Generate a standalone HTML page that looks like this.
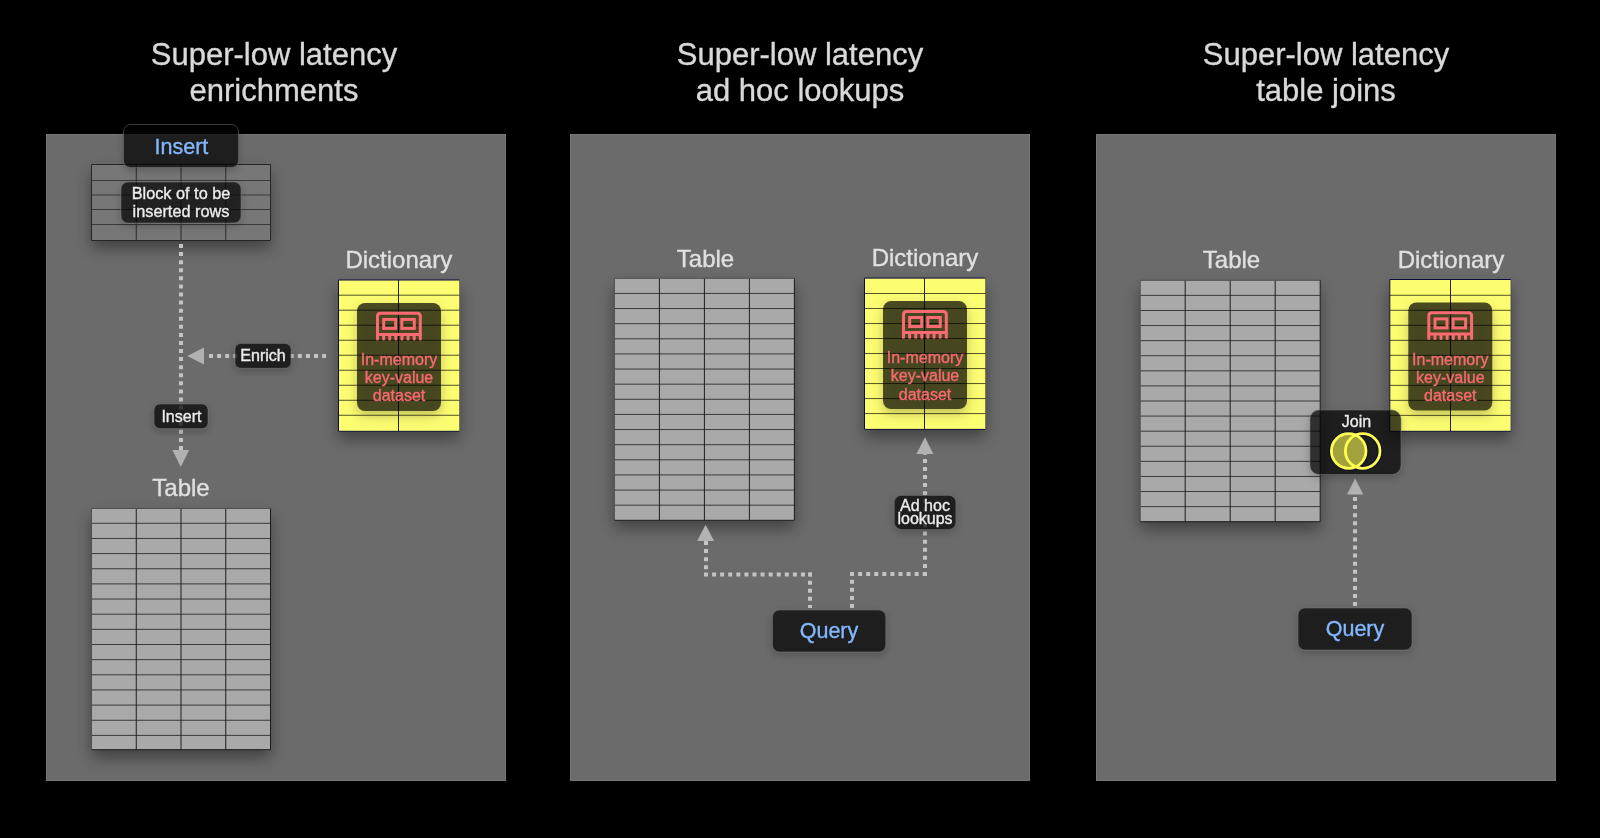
<!DOCTYPE html><html><head><meta charset="utf-8"><style>html,body{margin:0;padding:0;background:#000;overflow:hidden}svg{display:block;will-change:transform}text{font-family:"Liberation Sans",sans-serif}</style></head><body>
<svg width="1600" height="838" viewBox="0 0 1600 838">
<defs>
<filter id="sh" x="-30%" y="-30%" width="160%" height="160%"><feDropShadow dx="0" dy="8" stdDeviation="8" flood-color="#000" flood-opacity="0.4"/></filter>
<filter id="sh2" x="-30%" y="-30%" width="160%" height="160%"><feGaussianBlur in="SourceAlpha" stdDeviation="4" result="b"/><feOffset in="b" dy="3" result="o"/><feComposite in="o" in2="SourceAlpha" operator="out" result="c"/><feFlood flood-color="#000" flood-opacity="0.3"/><feComposite in2="c" operator="in" result="d"/><feMerge><feMergeNode in="d"/><feMergeNode in="SourceGraphic"/></feMerge></filter>
<filter id="sh3" x="-40%" y="-40%" width="180%" height="180%"><feGaussianBlur in="SourceAlpha" stdDeviation="6" result="b"/><feOffset in="b" dy="5" result="o"/><feComposite in="o" in2="SourceAlpha" operator="out" result="c"/><feFlood flood-color="#000" flood-opacity="0.32"/><feComposite in2="c" operator="in" result="d"/><feMerge><feMergeNode in="d"/><feMergeNode in="SourceGraphic"/></feMerge></filter>
</defs>
<g>
<rect width="1600" height="838" fill="#000"/>
<rect x="46.5" y="134.5" width="459" height="646" fill="#6b6b6b" stroke="#777777" stroke-width="1"/>
<rect x="570.5" y="134.5" width="459" height="646" fill="#6b6b6b" stroke="#777777" stroke-width="1"/>
<rect x="1096.5" y="134.5" width="459" height="646" fill="#6b6b6b" stroke="#777777" stroke-width="1"/>
<text x="274" y="65" font-size="31" fill="#d9d9d9" stroke="#d9d9d9" stroke-width="0.35" text-anchor="middle" >Super-low latency</text>
<text x="274" y="101" font-size="31" fill="#d9d9d9" stroke="#d9d9d9" stroke-width="0.35" text-anchor="middle" >enrichments</text>
<text x="800" y="65" font-size="31" fill="#d9d9d9" stroke="#d9d9d9" stroke-width="0.35" text-anchor="middle" >Super-low latency</text>
<text x="800" y="101" font-size="31" fill="#d9d9d9" stroke="#d9d9d9" stroke-width="0.35" text-anchor="middle" >ad hoc lookups</text>
<text x="1326" y="65" font-size="31" fill="#d9d9d9" stroke="#d9d9d9" stroke-width="0.35" text-anchor="middle" >Super-low latency</text>
<text x="1326" y="101" font-size="31" fill="#d9d9d9" stroke="#d9d9d9" stroke-width="0.35" text-anchor="middle" >table joins</text>
<rect x="91.5" y="164.5" width="179" height="76" fill="#777777" filter="url(#sh)"/>
<line x1="91.5" y1="180.50" x2="270.5" y2="180.50" stroke="#2a2a2a" stroke-width="0.8"/>
<line x1="91.5" y1="195.00" x2="270.5" y2="195.00" stroke="#2a2a2a" stroke-width="0.8"/>
<line x1="91.5" y1="209.50" x2="270.5" y2="209.50" stroke="#2a2a2a" stroke-width="0.8"/>
<line x1="91.5" y1="224.50" x2="270.5" y2="224.50" stroke="#2a2a2a" stroke-width="0.8"/>
<line x1="136.25" y1="164.5" x2="136.25" y2="240.5" stroke="#2a2a2a" stroke-width="1.0"/>
<line x1="181.00" y1="164.5" x2="181.00" y2="240.5" stroke="#2a2a2a" stroke-width="1.0"/>
<line x1="225.75" y1="164.5" x2="225.75" y2="240.5" stroke="#2a2a2a" stroke-width="1.0"/>
<path d="M91.5,240.5 V164.5 H270.5" fill="none" stroke="#262626" stroke-width="1.0"/>
<path d="M270.5,164.5 V240.5 H91.5" fill="none" stroke="#262626" stroke-width="1.0"/>
<line x1="181" y1="244" x2="181" y2="450" stroke="#c4c4c4" stroke-width="4" stroke-dasharray="4 4.08" stroke-dashoffset="0"/>
<polygon points="172.4,450 189.1,450 180.8,467" fill="#b2b2b2"/>
<rect x="123.5" y="124.5" width="115.0" height="43.0" rx="7" ry="7" fill="rgba(0,0,0,0.7)" stroke="rgba(110,110,110,0.55)" stroke-width="1" filter="url(#sh2)"/>
<text x="181.4" y="153.8" font-size="21.5" fill="#82b8ff" stroke="#82b8ff" stroke-width="0.35" text-anchor="middle" >Insert</text>
<rect x="121" y="182" width="120" height="41" rx="7" ry="7" fill="rgba(0,0,0,0.7)" stroke="rgba(110,110,110,0.55)" stroke-width="1" filter="url(#sh2)"/>
<text x="181" y="198.7" font-size="16.3" fill="#ececec" stroke="#ececec" stroke-width="0.35" text-anchor="middle" >Block of to be</text>
<text x="181" y="217" font-size="16.3" fill="#ececec" stroke="#ececec" stroke-width="0.35" text-anchor="middle" >inserted rows</text>
<line x1="209" y1="356" x2="326" y2="356" stroke="#c4c4c4" stroke-width="4" stroke-dasharray="4 4.08" stroke-dashoffset="0"/>
<polygon points="187.3,356 204,347.5 204,364.5" fill="#b2b2b2"/>
<rect x="235" y="343.5" width="56" height="24.80000000000001" rx="6" ry="6" fill="rgba(0,0,0,0.7)" stroke="rgba(110,110,110,0.55)" stroke-width="1" filter="url(#sh2)"/>
<text x="263" y="361" font-size="16" fill="#ececec" stroke="#ececec" stroke-width="0.35" text-anchor="middle" >Enrich</text>
<rect x="154" y="404" width="54" height="24.600000000000023" rx="6" ry="6" fill="rgba(0,0,0,0.7)" stroke="rgba(110,110,110,0.55)" stroke-width="1" filter="url(#sh2)"/>
<text x="181.4" y="422.2" font-size="16" fill="#ececec" stroke="#ececec" stroke-width="0.35" text-anchor="middle" >Insert</text>
<text x="398.8" y="267.8" font-size="24" fill="#e0e0e0" stroke="#e0e0e0" stroke-width="0.35" text-anchor="middle" >Dictionary</text>
<rect x="338.5" y="280" width="121" height="151.3" fill="#fdfd72" filter="url(#sh)"/>
<line x1="338.5" y1="295.20" x2="459.5" y2="295.20" stroke="#2a2a14" stroke-width="0.8"/>
<line x1="338.5" y1="310.21" x2="459.5" y2="310.21" stroke="#2a2a14" stroke-width="0.8"/>
<line x1="338.5" y1="325.22" x2="459.5" y2="325.22" stroke="#2a2a14" stroke-width="0.8"/>
<line x1="338.5" y1="340.23" x2="459.5" y2="340.23" stroke="#2a2a14" stroke-width="0.8"/>
<line x1="338.5" y1="355.24" x2="459.5" y2="355.24" stroke="#2a2a14" stroke-width="0.8"/>
<line x1="338.5" y1="370.25" x2="459.5" y2="370.25" stroke="#2a2a14" stroke-width="0.8"/>
<line x1="338.5" y1="385.26" x2="459.5" y2="385.26" stroke="#2a2a14" stroke-width="0.8"/>
<line x1="338.5" y1="400.27" x2="459.5" y2="400.27" stroke="#2a2a14" stroke-width="0.8"/>
<line x1="338.5" y1="415.28" x2="459.5" y2="415.28" stroke="#2a2a14" stroke-width="0.8"/>
<line x1="398.5" y1="280" x2="398.5" y2="431.3" stroke="#222" stroke-width="1"/>
<path d="M459.5,280 H338.5 V431.3 H459.5" fill="none" stroke="#0a0a40" stroke-width="1"/>
<line x1="459.5" y1="280" x2="459.5" y2="431.3" stroke="rgba(10,10,60,0.35)" stroke-width="1"/>
<rect x="357.0" y="303" width="84" height="108" rx="8" ry="8" fill="rgba(0,0,0,0.7)" filter="url(#sh3)"/>
<g transform="translate(376.0,311.7)" fill="none" stroke="#fa6a72" stroke-width="3" stroke-linejoin="round" stroke-linecap="round">
<path d="M1.5,22.8 V4.6 Q1.5,1.6 4.5,1.6 H41.3 Q44.3,1.6 44.3,4.6 V22.8 Z" stroke-linecap="butt" stroke-linejoin="miter"/>
<line x1="1.50" y1="23" x2="1.50" y2="27.4"/>
<line x1="7.61" y1="23" x2="7.61" y2="27.4"/>
<line x1="13.73" y1="23" x2="13.73" y2="27.4"/>
<line x1="19.84" y1="23" x2="19.84" y2="27.4"/>
<line x1="25.96" y1="23" x2="25.96" y2="27.4"/>
<line x1="32.07" y1="23" x2="32.07" y2="27.4"/>
<line x1="38.19" y1="23" x2="38.19" y2="27.4"/>
<line x1="44.30" y1="23" x2="44.30" y2="27.4"/>
<rect x="7.7" y="7.7" width="12" height="9" stroke-linejoin="miter"/>
<rect x="25.8" y="7.7" width="12.5" height="9" stroke-linejoin="miter"/>
</g>
<text x="399.0" y="365.0" font-size="16" fill="#fa6a72" stroke="#fa6a72" stroke-width="0.35" text-anchor="middle" >In-memory</text>
<text x="399.0" y="383.2" font-size="16" fill="#fa6a72" stroke="#fa6a72" stroke-width="0.35" text-anchor="middle" >key-value</text>
<text x="399.0" y="401.4" font-size="16" fill="#fa6a72" stroke="#fa6a72" stroke-width="0.35" text-anchor="middle" >dataset</text>
<text x="181" y="495.8" font-size="24" fill="#e0e0e0" stroke="#e0e0e0" stroke-width="0.35" text-anchor="middle" >Table</text>
<rect x="91.5" y="508.5" width="179" height="241.2" fill="#a9a9a9" filter="url(#sh)"/>
<line x1="91.5" y1="523.30" x2="270.5" y2="523.30" stroke="#1e1e1e" stroke-width="0.8"/>
<line x1="91.5" y1="538.45" x2="270.5" y2="538.45" stroke="#1e1e1e" stroke-width="0.8"/>
<line x1="91.5" y1="553.60" x2="270.5" y2="553.60" stroke="#1e1e1e" stroke-width="0.8"/>
<line x1="91.5" y1="568.75" x2="270.5" y2="568.75" stroke="#1e1e1e" stroke-width="0.8"/>
<line x1="91.5" y1="583.90" x2="270.5" y2="583.90" stroke="#1e1e1e" stroke-width="0.8"/>
<line x1="91.5" y1="599.05" x2="270.5" y2="599.05" stroke="#1e1e1e" stroke-width="0.8"/>
<line x1="91.5" y1="614.20" x2="270.5" y2="614.20" stroke="#1e1e1e" stroke-width="0.8"/>
<line x1="91.5" y1="629.35" x2="270.5" y2="629.35" stroke="#1e1e1e" stroke-width="0.8"/>
<line x1="91.5" y1="644.50" x2="270.5" y2="644.50" stroke="#1e1e1e" stroke-width="0.8"/>
<line x1="91.5" y1="659.65" x2="270.5" y2="659.65" stroke="#1e1e1e" stroke-width="0.8"/>
<line x1="91.5" y1="674.80" x2="270.5" y2="674.80" stroke="#1e1e1e" stroke-width="0.8"/>
<line x1="91.5" y1="689.95" x2="270.5" y2="689.95" stroke="#1e1e1e" stroke-width="0.8"/>
<line x1="91.5" y1="705.10" x2="270.5" y2="705.10" stroke="#1e1e1e" stroke-width="0.8"/>
<line x1="91.5" y1="720.25" x2="270.5" y2="720.25" stroke="#1e1e1e" stroke-width="0.8"/>
<line x1="91.5" y1="735.40" x2="270.5" y2="735.40" stroke="#1e1e1e" stroke-width="0.8"/>
<line x1="136.25" y1="508.5" x2="136.25" y2="749.7" stroke="#1e1e1e" stroke-width="1.0"/>
<line x1="181.00" y1="508.5" x2="181.00" y2="749.7" stroke="#1e1e1e" stroke-width="1.0"/>
<line x1="225.75" y1="508.5" x2="225.75" y2="749.7" stroke="#1e1e1e" stroke-width="1.0"/>
<path d="M91.5,749.7 V508.5 H270.5" fill="none" stroke="#505050" stroke-width="1.0"/>
<path d="M270.5,508.5 V749.7 H91.5" fill="none" stroke="#1a1a1a" stroke-width="1.0"/>
<text x="705.5" y="266.9" font-size="24" fill="#e0e0e0" stroke="#e0e0e0" stroke-width="0.35" text-anchor="middle" >Table</text>
<rect x="614.4" y="278.3" width="180" height="242" fill="#a9a9a9" filter="url(#sh)"/>
<line x1="614.4" y1="293.43" x2="794.4" y2="293.43" stroke="#1e1e1e" stroke-width="0.8"/>
<line x1="614.4" y1="308.55" x2="794.4" y2="308.55" stroke="#1e1e1e" stroke-width="0.8"/>
<line x1="614.4" y1="323.68" x2="794.4" y2="323.68" stroke="#1e1e1e" stroke-width="0.8"/>
<line x1="614.4" y1="338.80" x2="794.4" y2="338.80" stroke="#1e1e1e" stroke-width="0.8"/>
<line x1="614.4" y1="353.93" x2="794.4" y2="353.93" stroke="#1e1e1e" stroke-width="0.8"/>
<line x1="614.4" y1="369.05" x2="794.4" y2="369.05" stroke="#1e1e1e" stroke-width="0.8"/>
<line x1="614.4" y1="384.18" x2="794.4" y2="384.18" stroke="#1e1e1e" stroke-width="0.8"/>
<line x1="614.4" y1="399.30" x2="794.4" y2="399.30" stroke="#1e1e1e" stroke-width="0.8"/>
<line x1="614.4" y1="414.43" x2="794.4" y2="414.43" stroke="#1e1e1e" stroke-width="0.8"/>
<line x1="614.4" y1="429.55" x2="794.4" y2="429.55" stroke="#1e1e1e" stroke-width="0.8"/>
<line x1="614.4" y1="444.68" x2="794.4" y2="444.68" stroke="#1e1e1e" stroke-width="0.8"/>
<line x1="614.4" y1="459.80" x2="794.4" y2="459.80" stroke="#1e1e1e" stroke-width="0.8"/>
<line x1="614.4" y1="474.93" x2="794.4" y2="474.93" stroke="#1e1e1e" stroke-width="0.8"/>
<line x1="614.4" y1="490.05" x2="794.4" y2="490.05" stroke="#1e1e1e" stroke-width="0.8"/>
<line x1="614.4" y1="505.18" x2="794.4" y2="505.18" stroke="#1e1e1e" stroke-width="0.8"/>
<line x1="659.40" y1="278.3" x2="659.40" y2="520.3" stroke="#1e1e1e" stroke-width="1.0"/>
<line x1="704.40" y1="278.3" x2="704.40" y2="520.3" stroke="#1e1e1e" stroke-width="1.0"/>
<line x1="749.40" y1="278.3" x2="749.40" y2="520.3" stroke="#1e1e1e" stroke-width="1.0"/>
<path d="M614.4,520.3 V278.3 H794.4" fill="none" stroke="#505050" stroke-width="1.0"/>
<path d="M794.4,278.3 V520.3 H614.4" fill="none" stroke="#1a1a1a" stroke-width="1.0"/>
<text x="925" y="266.4" font-size="24" fill="#e0e0e0" stroke="#e0e0e0" stroke-width="0.35" text-anchor="middle" >Dictionary</text>
<rect x="864.5" y="278.1" width="121" height="151.29999999999995" fill="#fdfd72" filter="url(#sh)"/>
<line x1="864.5" y1="293.50" x2="985.5" y2="293.50" stroke="#2a2a14" stroke-width="0.8"/>
<line x1="864.5" y1="308.51" x2="985.5" y2="308.51" stroke="#2a2a14" stroke-width="0.8"/>
<line x1="864.5" y1="323.52" x2="985.5" y2="323.52" stroke="#2a2a14" stroke-width="0.8"/>
<line x1="864.5" y1="338.53" x2="985.5" y2="338.53" stroke="#2a2a14" stroke-width="0.8"/>
<line x1="864.5" y1="353.54" x2="985.5" y2="353.54" stroke="#2a2a14" stroke-width="0.8"/>
<line x1="864.5" y1="368.55" x2="985.5" y2="368.55" stroke="#2a2a14" stroke-width="0.8"/>
<line x1="864.5" y1="383.56" x2="985.5" y2="383.56" stroke="#2a2a14" stroke-width="0.8"/>
<line x1="864.5" y1="398.57" x2="985.5" y2="398.57" stroke="#2a2a14" stroke-width="0.8"/>
<line x1="864.5" y1="413.58" x2="985.5" y2="413.58" stroke="#2a2a14" stroke-width="0.8"/>
<line x1="924.5" y1="278.1" x2="924.5" y2="429.4" stroke="#222" stroke-width="1"/>
<path d="M985.5,278.1 H864.5 V429.4 H985.5" fill="none" stroke="#0a0a40" stroke-width="1"/>
<line x1="985.5" y1="278.1" x2="985.5" y2="429.4" stroke="rgba(10,10,60,0.35)" stroke-width="1"/>
<rect x="883.0" y="301.1" width="84" height="108" rx="8" ry="8" fill="rgba(0,0,0,0.7)" filter="url(#sh3)"/>
<g transform="translate(902.0,309.8)" fill="none" stroke="#fa6a72" stroke-width="3" stroke-linejoin="round" stroke-linecap="round">
<path d="M1.5,22.8 V4.6 Q1.5,1.6 4.5,1.6 H41.3 Q44.3,1.6 44.3,4.6 V22.8 Z" stroke-linecap="butt" stroke-linejoin="miter"/>
<line x1="1.50" y1="23" x2="1.50" y2="27.4"/>
<line x1="7.61" y1="23" x2="7.61" y2="27.4"/>
<line x1="13.73" y1="23" x2="13.73" y2="27.4"/>
<line x1="19.84" y1="23" x2="19.84" y2="27.4"/>
<line x1="25.96" y1="23" x2="25.96" y2="27.4"/>
<line x1="32.07" y1="23" x2="32.07" y2="27.4"/>
<line x1="38.19" y1="23" x2="38.19" y2="27.4"/>
<line x1="44.30" y1="23" x2="44.30" y2="27.4"/>
<rect x="7.7" y="7.7" width="12" height="9" stroke-linejoin="miter"/>
<rect x="25.8" y="7.7" width="12.5" height="9" stroke-linejoin="miter"/>
</g>
<text x="925.0" y="363.1" font-size="16" fill="#fa6a72" stroke="#fa6a72" stroke-width="0.35" text-anchor="middle" >In-memory</text>
<text x="925.0" y="381.3" font-size="16" fill="#fa6a72" stroke="#fa6a72" stroke-width="0.35" text-anchor="middle" >key-value</text>
<text x="925.0" y="399.5" font-size="16" fill="#fa6a72" stroke="#fa6a72" stroke-width="0.35" text-anchor="middle" >dataset</text>
<polygon points="697.2,541 714.1,541 705.6,524.7" fill="#b2b2b2"/>
<line x1="706" y1="541" x2="706" y2="574.6" stroke="#c4c4c4" stroke-width="4" stroke-dasharray="4 4.08" stroke-dashoffset="0"/>
<line x1="704" y1="574.6" x2="812" y2="574.6" stroke="#c4c4c4" stroke-width="4" stroke-dasharray="4 4.08" stroke-dashoffset="0"/>
<line x1="810" y1="572.6" x2="810" y2="608" stroke="#c4c4c4" stroke-width="4" stroke-dasharray="4 4.08" stroke-dashoffset="0"/>
<line x1="852" y1="608" x2="852" y2="572" stroke="#c4c4c4" stroke-width="4" stroke-dasharray="4 4.08" stroke-dashoffset="0"/>
<line x1="850" y1="574" x2="927" y2="574" stroke="#c4c4c4" stroke-width="4" stroke-dasharray="4 4.08" stroke-dashoffset="0"/>
<line x1="925" y1="576" x2="925" y2="454" stroke="#c4c4c4" stroke-width="4" stroke-dasharray="4 4.08" stroke-dashoffset="0"/>
<polygon points="916.5,453.9 933.3,453.9 925,437.2" fill="#b2b2b2"/>
<rect x="894.3" y="495.4" width="61.60000000000002" height="34.0" rx="7" ry="7" fill="rgba(0,0,0,0.7)" stroke="rgba(110,110,110,0.55)" stroke-width="1" filter="url(#sh2)"/>
<text x="925" y="511.3" font-size="16" fill="#ececec" stroke="#ececec" stroke-width="0.35" text-anchor="middle" >Ad hoc</text>
<text x="925" y="524" font-size="16" fill="#ececec" stroke="#ececec" stroke-width="0.35" text-anchor="middle" >lookups</text>
<rect x="772.5" y="610" width="113.29999999999995" height="42" rx="7" ry="7" fill="rgba(0,0,0,0.7)" stroke="rgba(110,110,110,0.55)" stroke-width="1" filter="url(#sh2)"/>
<text x="829" y="638" font-size="21.5" fill="#82b8ff" stroke="#82b8ff" stroke-width="0.35" text-anchor="middle" >Query</text>
<text x="1231.5" y="268.1" font-size="24" fill="#e0e0e0" stroke="#e0e0e0" stroke-width="0.35" text-anchor="middle" >Table</text>
<rect x="1140.2" y="280.3" width="180" height="241.4" fill="#a9a9a9" filter="url(#sh)"/>
<line x1="1140.2" y1="295.39" x2="1320.2" y2="295.39" stroke="#1e1e1e" stroke-width="0.8"/>
<line x1="1140.2" y1="310.48" x2="1320.2" y2="310.48" stroke="#1e1e1e" stroke-width="0.8"/>
<line x1="1140.2" y1="325.56" x2="1320.2" y2="325.56" stroke="#1e1e1e" stroke-width="0.8"/>
<line x1="1140.2" y1="340.65" x2="1320.2" y2="340.65" stroke="#1e1e1e" stroke-width="0.8"/>
<line x1="1140.2" y1="355.74" x2="1320.2" y2="355.74" stroke="#1e1e1e" stroke-width="0.8"/>
<line x1="1140.2" y1="370.83" x2="1320.2" y2="370.83" stroke="#1e1e1e" stroke-width="0.8"/>
<line x1="1140.2" y1="385.91" x2="1320.2" y2="385.91" stroke="#1e1e1e" stroke-width="0.8"/>
<line x1="1140.2" y1="401.00" x2="1320.2" y2="401.00" stroke="#1e1e1e" stroke-width="0.8"/>
<line x1="1140.2" y1="416.09" x2="1320.2" y2="416.09" stroke="#1e1e1e" stroke-width="0.8"/>
<line x1="1140.2" y1="431.18" x2="1320.2" y2="431.18" stroke="#1e1e1e" stroke-width="0.8"/>
<line x1="1140.2" y1="446.26" x2="1320.2" y2="446.26" stroke="#1e1e1e" stroke-width="0.8"/>
<line x1="1140.2" y1="461.35" x2="1320.2" y2="461.35" stroke="#1e1e1e" stroke-width="0.8"/>
<line x1="1140.2" y1="476.44" x2="1320.2" y2="476.44" stroke="#1e1e1e" stroke-width="0.8"/>
<line x1="1140.2" y1="491.52" x2="1320.2" y2="491.52" stroke="#1e1e1e" stroke-width="0.8"/>
<line x1="1140.2" y1="506.61" x2="1320.2" y2="506.61" stroke="#1e1e1e" stroke-width="0.8"/>
<line x1="1185.20" y1="280.3" x2="1185.20" y2="521.7" stroke="#1e1e1e" stroke-width="1.0"/>
<line x1="1230.20" y1="280.3" x2="1230.20" y2="521.7" stroke="#1e1e1e" stroke-width="1.0"/>
<line x1="1275.20" y1="280.3" x2="1275.20" y2="521.7" stroke="#1e1e1e" stroke-width="1.0"/>
<path d="M1140.2,521.7 V280.3 H1320.2" fill="none" stroke="#505050" stroke-width="1.0"/>
<path d="M1320.2,280.3 V521.7 H1140.2" fill="none" stroke="#1a1a1a" stroke-width="1.0"/>
<text x="1451" y="268" font-size="24" fill="#e0e0e0" stroke="#e0e0e0" stroke-width="0.35" text-anchor="middle" >Dictionary</text>
<rect x="1389.8" y="279.5" width="121" height="151.8" fill="#fdfd72" filter="url(#sh)"/>
<line x1="1389.8" y1="295.30" x2="1510.8" y2="295.30" stroke="#2a2a14" stroke-width="0.8"/>
<line x1="1389.8" y1="310.31" x2="1510.8" y2="310.31" stroke="#2a2a14" stroke-width="0.8"/>
<line x1="1389.8" y1="325.32" x2="1510.8" y2="325.32" stroke="#2a2a14" stroke-width="0.8"/>
<line x1="1389.8" y1="340.33" x2="1510.8" y2="340.33" stroke="#2a2a14" stroke-width="0.8"/>
<line x1="1389.8" y1="355.34" x2="1510.8" y2="355.34" stroke="#2a2a14" stroke-width="0.8"/>
<line x1="1389.8" y1="370.35" x2="1510.8" y2="370.35" stroke="#2a2a14" stroke-width="0.8"/>
<line x1="1389.8" y1="385.36" x2="1510.8" y2="385.36" stroke="#2a2a14" stroke-width="0.8"/>
<line x1="1389.8" y1="400.37" x2="1510.8" y2="400.37" stroke="#2a2a14" stroke-width="0.8"/>
<line x1="1389.8" y1="415.38" x2="1510.8" y2="415.38" stroke="#2a2a14" stroke-width="0.8"/>
<line x1="1450.5" y1="279.5" x2="1450.5" y2="431.3" stroke="#222" stroke-width="1"/>
<path d="M1510.8,279.5 H1389.8 V431.3 H1510.8" fill="none" stroke="#0a0a40" stroke-width="1"/>
<line x1="1510.8" y1="279.5" x2="1510.8" y2="431.3" stroke="rgba(10,10,60,0.35)" stroke-width="1"/>
<rect x="1408.3" y="302.5" width="84" height="108" rx="8" ry="8" fill="rgba(0,0,0,0.7)" filter="url(#sh3)"/>
<g transform="translate(1427.3,311.2)" fill="none" stroke="#fa6a72" stroke-width="3" stroke-linejoin="round" stroke-linecap="round">
<path d="M1.5,22.8 V4.6 Q1.5,1.6 4.5,1.6 H41.3 Q44.3,1.6 44.3,4.6 V22.8 Z" stroke-linecap="butt" stroke-linejoin="miter"/>
<line x1="1.50" y1="23" x2="1.50" y2="27.4"/>
<line x1="7.61" y1="23" x2="7.61" y2="27.4"/>
<line x1="13.73" y1="23" x2="13.73" y2="27.4"/>
<line x1="19.84" y1="23" x2="19.84" y2="27.4"/>
<line x1="25.96" y1="23" x2="25.96" y2="27.4"/>
<line x1="32.07" y1="23" x2="32.07" y2="27.4"/>
<line x1="38.19" y1="23" x2="38.19" y2="27.4"/>
<line x1="44.30" y1="23" x2="44.30" y2="27.4"/>
<rect x="7.7" y="7.7" width="12" height="9" stroke-linejoin="miter"/>
<rect x="25.8" y="7.7" width="12.5" height="9" stroke-linejoin="miter"/>
</g>
<text x="1450.3" y="364.5" font-size="16" fill="#fa6a72" stroke="#fa6a72" stroke-width="0.35" text-anchor="middle" >In-memory</text>
<text x="1450.3" y="382.7" font-size="16" fill="#fa6a72" stroke="#fa6a72" stroke-width="0.35" text-anchor="middle" >key-value</text>
<text x="1450.3" y="400.9" font-size="16" fill="#fa6a72" stroke="#fa6a72" stroke-width="0.35" text-anchor="middle" >dataset</text>
<line x1="1355" y1="497" x2="1355" y2="606" stroke="#c4c4c4" stroke-width="4" stroke-dasharray="4 4.08" stroke-dashoffset="0"/>
<polygon points="1347,494.6 1363.3,494.6 1355.1,478.3" fill="#b2b2b2"/>
<rect x="1298" y="608" width="114" height="42" rx="7" ry="7" fill="rgba(0,0,0,0.7)" stroke="rgba(110,110,110,0.55)" stroke-width="1" filter="url(#sh2)"/>
<text x="1355" y="636" font-size="21.5" fill="#82b8ff" stroke="#82b8ff" stroke-width="0.35" text-anchor="middle" >Query</text>
<rect x="1310" y="410" width="91" height="64.5" rx="9" ry="9" fill="rgba(0,0,0,0.7)" stroke="rgba(110,110,110,0.55)" stroke-width="1" filter="url(#sh2)"/>
<text x="1356.5" y="426.6" font-size="16" fill="#ececec" stroke="#ececec" stroke-width="0.35" text-anchor="middle" >Join</text>
<circle cx="1348.7" cy="451" r="17.3" fill="none" stroke="#0a0a30" stroke-width="4.6"/>
<circle cx="1362.7" cy="451" r="17.3" fill="none" stroke="#0a0a30" stroke-width="4.6"/>
<circle cx="1348.7" cy="451" r="17.3" fill="#a2a23c"/>
<circle cx="1348.7" cy="451" r="17.3" fill="none" stroke="#ffff50" stroke-width="2.8"/>
<circle cx="1362.7" cy="451" r="17.3" fill="none" stroke="#ffff50" stroke-width="2.8"/>
</g>
</svg></body></html>
